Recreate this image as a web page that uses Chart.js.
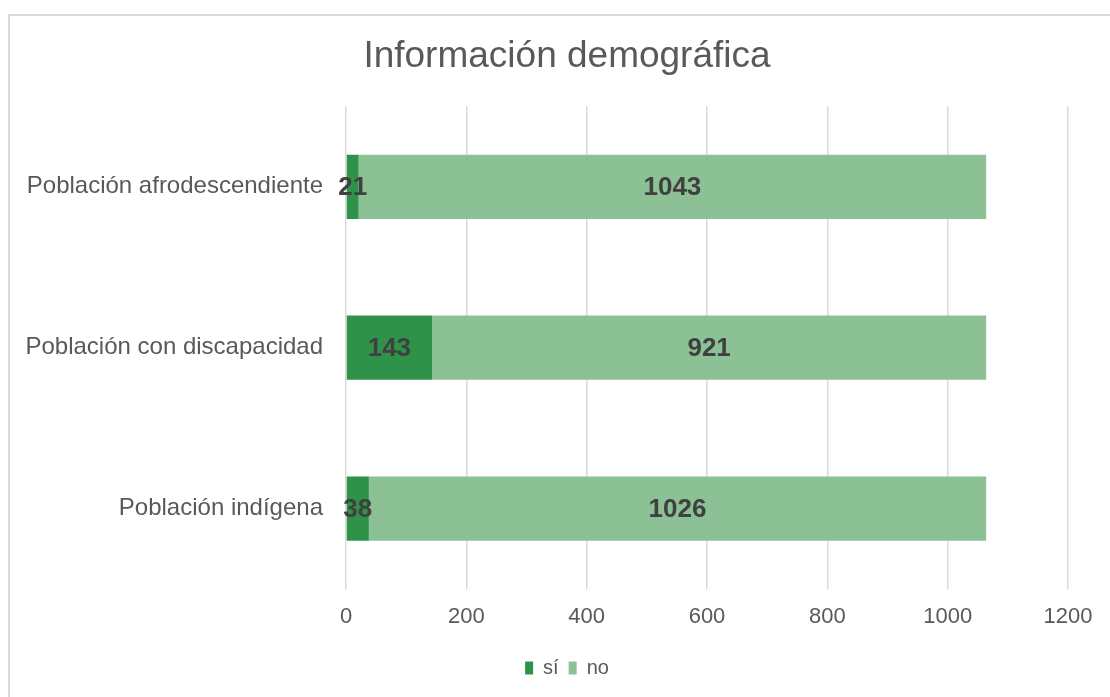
<!DOCTYPE html>
<html>
<head>
<meta charset="utf-8">
<script src="https://cdn.jsdelivr.net/npm/chart.js@4.4.1/dist/chart.umd.min.js"></script>
<style>
    html, body { margin: 0; padding: 0; background: #ffffff; }
    #frame {
        position: absolute; left: 8px; top: 14px;
        width: 1200px; height: 800px;
        border: 2px solid #d9d9d9; box-sizing: border-box;
    }
    #wrap { position: absolute; left: 0; top: 0; width: 1110px; height: 697px; }
</style>
</head>
<body>
<div id="frame"></div>
<div id="wrap"><canvas id="demoChart"></canvas></div>
<script>
const categories = ['Población afrodescendiente', 'Población con discapacidad', 'Población indígena'];
const siValues = [21, 143, 38];
const noValues = [1043, 921, 1026];
const xTicks = [0, 200, 400, 600, 800, 1000, 1200];

const grayText = '#595959';
const fontFamily = "'Liberation Sans', Arial, sans-serif";

// draws the value in the middle of every bar segment
const barLabels = {
    id: 'barLabels',
    afterDatasetsDraw(chart) {
        const ctx = chart.ctx;
        ctx.save();
        ctx.font = 'bold 26px ' + fontFamily;
        ctx.fillStyle = '#404040';
        ctx.textAlign = 'center';
        ctx.textBaseline = 'middle';
        chart.data.datasets.forEach((dataset, i) => {
            const meta = chart.getDatasetMeta(i);
            meta.data.forEach((bar, j) => {
                const cx = (bar.x + bar.base) / 2;
                ctx.fillText(String(dataset.data[j]), cx, bar.y + 1);
            });
        });
        ctx.restore();
    }
};

const ctx = document.getElementById('demoChart').getContext('2d');
const demoChart = new Chart(ctx, {
    type: 'bar',
    data: {
        labels: categories,
        datasets: [{
            label: 'sí',
            data: siValues,
            backgroundColor: '#2e9348',
            barPercentage: 0.4,
            categoryPercentage: 1
        }, {
            label: 'no',
            data: noValues,
            backgroundColor: '#8cc196',
            barPercentage: 0.4,
            categoryPercentage: 1
        }]
    },
    options: {
        indexAxis: 'y',
        responsive: true,
        maintainAspectRatio: false,
        animation: false,
        layout: {
            padding: { left: 24, right: 0, top: 14, bottom: 9 }
        },
        scales: {
            x: {
                stacked: true,
                min: 0,
                max: 1200,
                afterBuildTicks: (scale) => {
                    scale.ticks = xTicks.map(v => ({ value: v }));
                },
                afterFit: (scale) => {
                    scale.paddingRight = 42;
                    scale.height = 59;
                },
                grid: { color: '#d9d9d9', lineWidth: 1.5, drawTicks: false },
                border: { display: false },
                ticks: {
                    color: grayText,
                    padding: 15,
                    font: { family: fontFamily, size: 22 },
                    callback: (value) => String(value)
                }
            },
            y: {
                stacked: true,
                afterFit: (scale) => {
                    scale.width = 322;
                },
                grid: { display: false, drawTicks: false },
                border: { display: false },
                ticks: {
                    color: grayText,
                    padding: 23,
                    font: { family: fontFamily, size: 24 }
                }
            }
        },
        plugins: {
            title: {
                display: true,
                text: 'Información demográfica',
                color: grayText,
                font: { family: fontFamily, size: 37, weight: 'normal' },
                padding: { top: 21, bottom: 27 }
            },
            legend: {
                position: 'bottom',
                labels: {
                    color: grayText,
                    boxWidth: 8,
                    boxHeight: 13,
                    padding: 10,
                    font: { family: fontFamily, size: 20 }
                }
            },
            tooltip: { enabled: false }
        }
    },
    plugins: [barLabels]
});
</script>
</body>
</html>
